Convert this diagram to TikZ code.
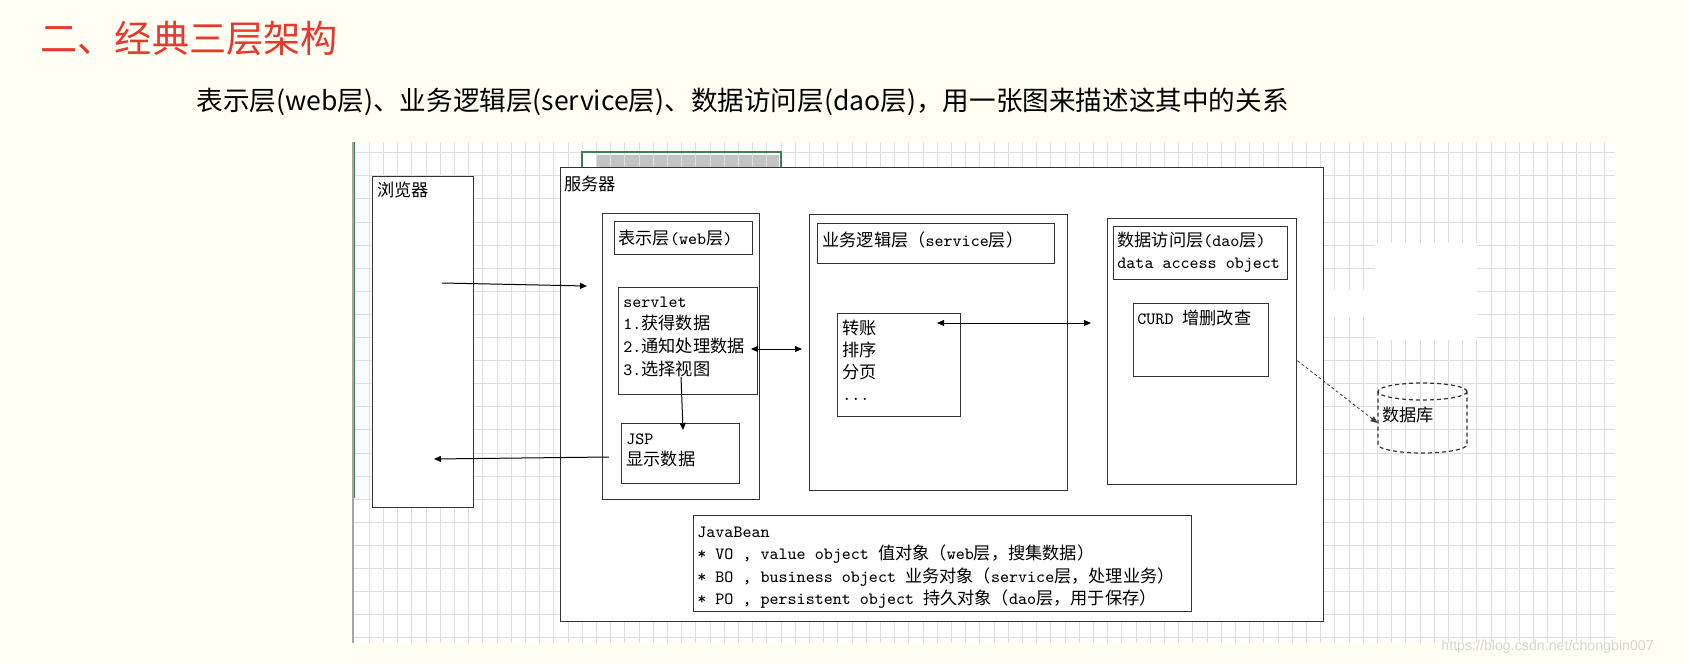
\documentclass[tikz,border=0pt]{standalone}
\usepackage{fontspec}
\usetikzlibrary{arrows.meta}
\newfontfamily\cjk{Noto Sans CJK SC}
\newfontfamily\markfont{Liberation Sans}
\newcommand\zh[1]{{\cjk #1}}
\definecolor{pagebg}{RGB}{255,255,244}
\definecolor{titlered}{RGB}{232,56,46}
\definecolor{sheetgreen}{RGB}{60,130,80}
\definecolor{cellgray}{RGB}{196,196,196}

\tikzset{
  box/.style={draw=black!80, fill=white, line width=0.7pt, inner sep=0pt, anchor=north west},
  txt/.style={anchor=base west, inner sep=0pt, font=\fontsize{8.6pt}{10pt}\ttfamily},
  gridline/.style={draw=black!13, line width=0.5pt},
  link/.style={-{Triangle[length=3.5pt,width=3pt]}, line width=0.5pt},
  twoway/.style={{Triangle[length=3.5pt,width=3pt]}-{Triangle[length=3.5pt,width=3pt]}, line width=0.5pt},
  dbline/.style={draw=black!80, line width=0.6pt, dash pattern=on 2pt off 1.5pt},
}

\begin{document}
\begin{tikzpicture}[x=0.5pt,y=-0.5pt]
\useasboundingbox (0,0) rectangle (1688,664);
\fill[pagebg] (0,0) rectangle (1688,664);

% headings
\node[anchor=base west, inner sep=0pt, text=titlered, font=\cjk\fontsize{18.6pt}{20pt}\selectfont] (title) at (40,52) {二、经典三层架构};
\node[anchor=base west, inner sep=0pt, font=\cjk\fontsize{13.3pt}{15pt}\selectfont] (subtitle) at (196,110) {表示层(web层)、业务逻辑层(service层)、数据访问层(dao层)，用一张图来描述这其中的关系};

% sheet background
\fill[white] (352,142) rectangle (1615,643);
\fill[cellgray] (596,155) rectangle (779,170);
\foreach \k in {0,...,87}
  \draw[gridline] (369.3+14.2*\k,142) -- (369.3+14.2*\k,643);
\foreach \k in {0,...,21}
  \draw[gridline] (352,152.7+23.1*\k) -- (1615,152.7+23.1*\k);
\fill[white] (1375,243) rectangle (1477,340);
\fill[white] (1324,290) rectangle (1375,317);
\draw[black!35, line width=1pt] (352.5,142) -- (352.5,643);
\draw[sheetgreen, line width=0.7pt] (354.5,142) -- (354.5,498);
\draw[sheetgreen, line width=0.7pt] (582,170) -- (582,152) -- (781,152) -- (781,170);

% boxes
\node[box, minimum width=50.5pt, minimum height=165.5pt] (browser) at (372,176) {};
\node[box, minimum width=381.5pt, minimum height=227pt] (server) at (560,167) {};
\node[box, minimum width=78.5pt, minimum height=143pt] (web) at (602,213) {};
\node[box, minimum width=69pt, minimum height=16.5pt] (webtitle) at (614,221) {};
\node[box, minimum width=69.5pt, minimum height=53.5pt] (servlet) at (618,287) {};
\node[box, minimum width=59pt, minimum height=30pt] (jsp) at (621,423) {};
\node[box, minimum width=129pt, minimum height=138pt] (service) at (809,214) {};
\node[box, minimum width=118.5pt, minimum height=20pt] (servicetitle) at (817,223) {};
\node[box, minimum width=61.5pt, minimum height=51.5pt] (biz) at (837,313) {};
\node[box, minimum width=94.5pt, minimum height=133pt] (dao) at (1107,218) {};
\node[box, minimum width=87pt, minimum height=26.5pt] (daotitle) at (1113,226) {};
\node[box, minimum width=67.5pt, minimum height=36.5pt] (curd) at (1133,303) {};
\node[box, minimum width=249pt, minimum height=48pt] (bean) at (693,515) {};

% database
\node[inner sep=0pt, minimum width=44.5pt, minimum height=35pt] (db) at (1422.5,418) {};
\draw[dbline] (1422.5,391.5) ellipse [x radius=22.25pt, y radius=4.25pt];
\draw[dbline] (1378,391.5) -- (1378,444.5) arc[start angle=180, end angle=360, x radius=22.25pt, y radius=4.25pt] -- (1467,391.5);

% labels
\node[txt] (browser-label) at (377,196) {\zh{浏览器}};
\node[txt] (server-label) at (564,190) {\zh{服务器}};
\node[txt] (web-label) at (618,244) {\zh{表示层}(web\zh{层})};
\foreach \row [count=\i from 0] in {servlet, 1.\zh{获得数据}, 2.\zh{通知处理数据}, 3.\zh{选择视图}}
  \node[txt] (servlet-\i) at (623,307+22.7*\i) {\row};
\node[txt] (jsp-0) at (626,444) {JSP};
\node[txt] (jsp-1) at (626,465) {\zh{显示数据}};
\node[txt] (service-label) at (822,246) {\zh{业务逻辑层（}service\zh{层）}};
\foreach \row [count=\i from 0] in {\zh{转账}, \zh{排序}, \zh{分页}}
  \node[txt] (biz-\i) at (842,334+22*\i) {\row};
\node[txt] (biz-3) at (842,400) {...};
\node[txt] (dao-0) at (1117,246) {\zh{数据访问层}(dao\zh{层})};
\node[txt] (dao-1) at (1117,268) {data access object};
\node[txt] (curd-label) at (1137,324) {CURD \zh{增删改查}};
\node[txt] (db-label) at (1382,421) {\zh{数据库}};
\foreach \row [count=\i from 0] in {
    {JavaBean},
    {* VO , value object \zh{值对象（}web\zh{层，搜集数据）}},
    {* BO , business object \zh{业务对象（}service\zh{层，处理业务）}},
    {* PO , persistent object \zh{持久对象（}dao\zh{层，用于保存）}}}
  \node[txt] (bean-\i) at (697,537+22.5*\i) {\row};

% connectors
\coordinate (request) at (442,283);
\coordinate (request-in) at (587,286);
\coordinate (call) at (751,349);
\coordinate (call-in) at (802,349);
\coordinate (query) at (937,323);
\coordinate (query-in) at (1091,323);
\coordinate (view) at (681,377);
\coordinate (view-in) at (683,430);
\coordinate (reply) at (609,457);
\coordinate (reply-in) at (434,459);
\draw[link] (request) -- (request-in);
\draw[twoway] (call) -- (call-in);
\draw[twoway] (query) -- (query-in);
\draw[link] (view) -- (view-in);
\draw[link] (reply) -- (reply-in);
\draw[link, draw=black!75, line width=0.4pt, dash pattern=on 1.5pt off 1.2pt] ([yshift=-4.5pt]dao.east) -- ([yshift=-2.5pt]db.west);

% watermark
\node[anchor=base west, inner sep=0pt, text=black!16, font=\markfont\fontsize{7.1pt}{8pt}\selectfont] (mark) at (1441,650) {https://blog.csdn.net/chongbin007};
\end{tikzpicture}
\end{document}
